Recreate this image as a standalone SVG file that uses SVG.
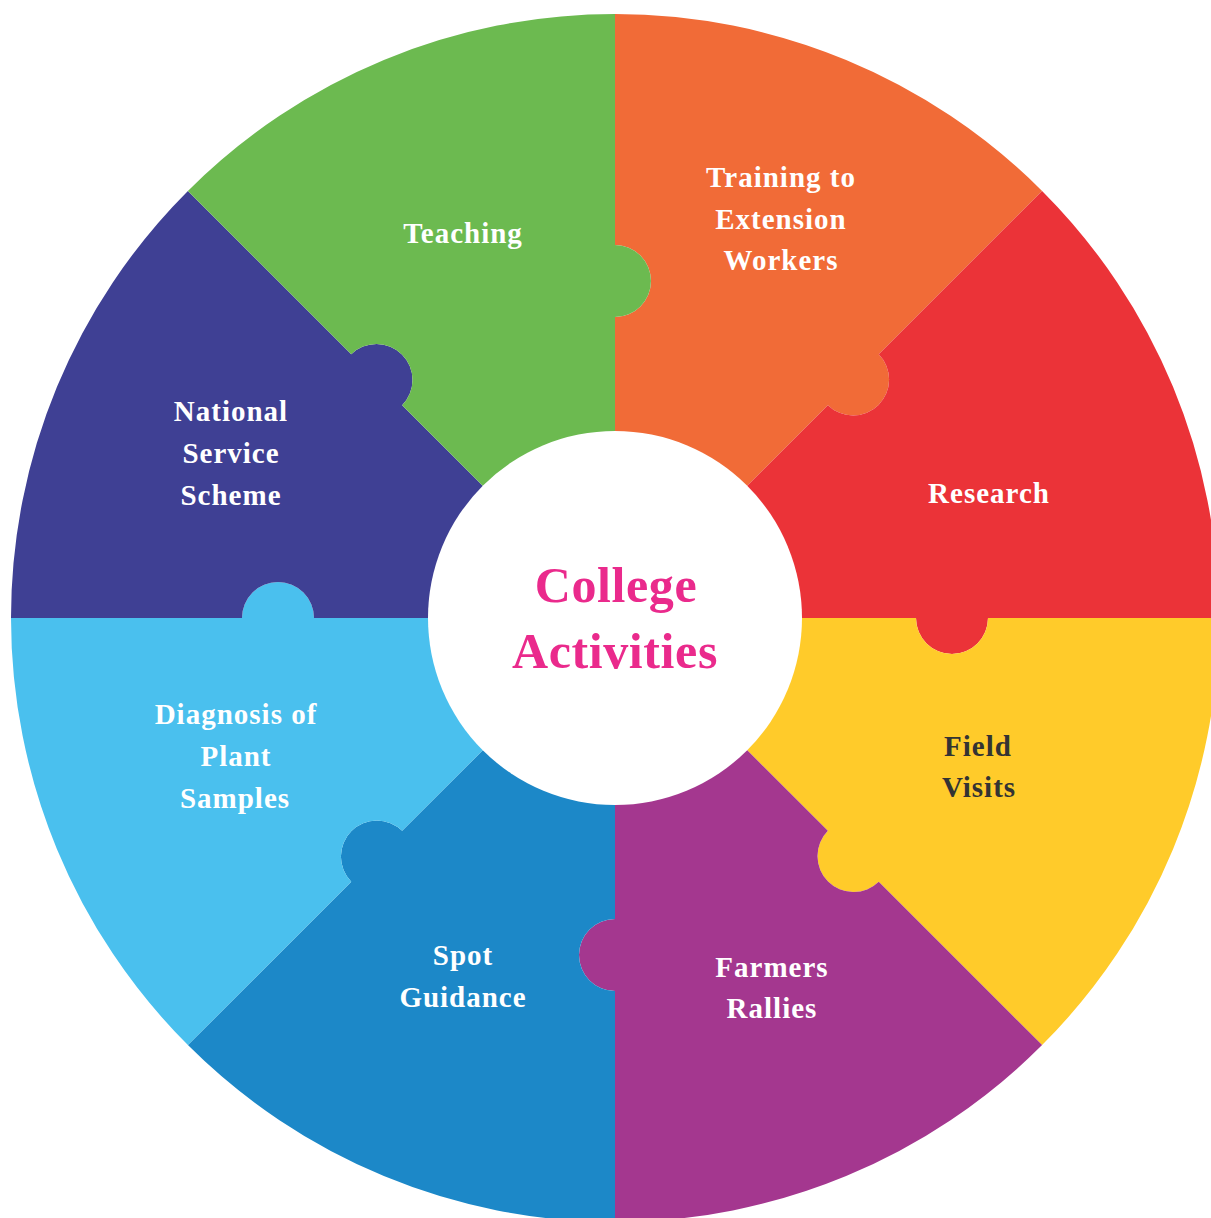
<svg xmlns="http://www.w3.org/2000/svg" width="1211" height="1218" viewBox="0 0 1211 1218">
<style>
.lbl{font-family:"Liberation Serif","Times New Roman",serif;font-weight:bold;font-size:29px;letter-spacing:1px;text-anchor:middle;fill:#ffffff}
.dark{fill:#333333}
.title{font-family:"Liberation Serif","Times New Roman",serif;font-weight:bold;font-size:50px;letter-spacing:0.6px;text-anchor:middle;fill:#EA2A8C}
</style>
<rect width="1211" height="1218" fill="#ffffff"/>
<g id="connectors"></g>
<g id="training">
<path fill="#F16B37" d="M615 618 L615 317 A36 36 0 0 0 615 245 L615 14 A604 604 0 0 1 1042.09 190.91 L878.75 354.25 A36 36 0 0 1 827.84 405.16 Z"/>
<text class="lbl" x="781" y="187">Training to</text>
<text class="lbl" x="781" y="229">Extension</text>
<text class="lbl" x="781" y="270">Workers</text>
</g>
<g id="research">
<path fill="#EB3338" d="M615 618 L827.84 405.16 A36 36 0 0 0 878.75 354.25 L1042.09 190.91 A604 604 0 0 1 1219 618 L988 618 A36 36 0 0 1 916 618 Z"/>
<text class="lbl" x="989" y="503">Research</text>
</g>
<g id="field-visits">
<path fill="#FFCB2A" d="M615 618 L916 618 A36 36 0 0 0 988 618 L1219 618 A604 604 0 0 1 1042.09 1045.09 L878.75 881.75 A36 36 0 0 1 827.84 830.84 Z"/>
<text class="lbl dark" x="978" y="756">Field</text>
<text class="lbl dark" x="979" y="797">Visits</text>
</g>
<g id="farmers-rallies">
<path fill="#A4378F" d="M615 618 L827.84 830.84 A36 36 0 0 0 878.75 881.75 L1042.09 1045.09 A604 604 0 0 1 615 1222 L615 991 A36 36 0 0 1 615 919 Z"/>
<text class="lbl" x="772" y="977">Farmers</text>
<text class="lbl" x="772" y="1018">Rallies</text>
</g>
<g id="spot-guidance">
<path fill="#1C88C8" d="M615 618 L615 919 A36 36 0 0 0 615 991 L615 1222 A604 604 0 0 1 187.91 1045.09 L351.25 881.75 A36 36 0 0 1 402.16 830.84 Z"/>
<text class="lbl" x="463" y="965">Spot</text>
<text class="lbl" x="463" y="1007">Guidance</text>
</g>
<g id="diagnosis">
<path fill="#4AC0EE" d="M615 618 L402.16 830.84 A36 36 0 0 0 351.25 881.75 L187.91 1045.09 A604 604 0 0 1 11 618 L242 618 A36 36 0 0 1 314 618 Z"/>
<text class="lbl" x="236" y="724">Diagnosis of</text>
<text class="lbl" x="236" y="766">Plant</text>
<text class="lbl" x="235" y="808">Samples</text>
</g>
<g id="nss">
<path fill="#3F4094" d="M615 618 L314 618 A36 36 0 0 0 242 618 L11 618 A604 604 0 0 1 187.91 190.91 L351.25 354.25 A36 36 0 0 1 402.16 405.16 Z"/>
<text class="lbl" x="231" y="421">National</text>
<text class="lbl" x="231" y="463">Service</text>
<text class="lbl" x="231" y="505">Scheme</text>
</g>
<g id="teaching">
<path fill="#6CBA50" d="M615 618 L402.16 405.16 A36 36 0 0 0 351.25 354.25 L187.91 190.91 A604 604 0 0 1 615 14 L615 245 A36 36 0 0 1 615 317 Z"/>
<text class="lbl" x="463" y="243">Teaching</text>
</g>
<g id="center">
<circle cx="615" cy="618" r="187" fill="#ffffff"/>
<text class="title" x="616" y="602">College</text>
<text class="title" x="615" y="668">Activities</text>
</g>
</svg>
